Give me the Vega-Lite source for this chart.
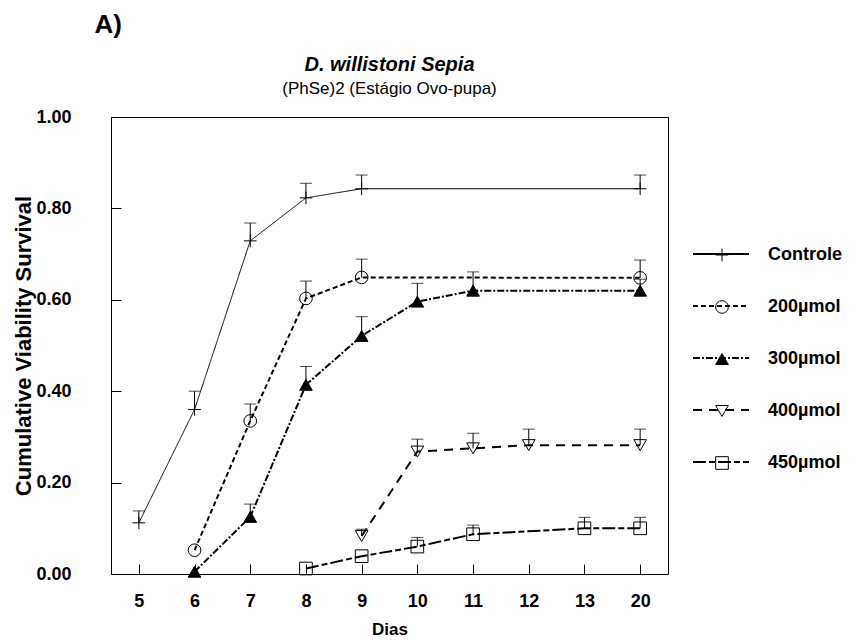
{
  "$schema": "https://vega.github.io/schema/vega-lite/v6.json",
  "background": "white",
  "padding": {"left": 12, "top": 11, "right": 5, "bottom": 5},
  "title": {"text": "A)", "anchor": "start", "fontSize": 26, "font": "Liberation Sans", "fontWeight": "bold", "color": "black", "dx": 82, "offset": 17},
  "vconcat": [
    {
      "width": 557,
      "height": 457,
      "title": {
        "text": "D. willistoni Sepia",
        "subtitle": "(PhSe)2  (Estágio Ovo-pupa)",
        "anchor": "middle",
        "font": "Liberation Sans",
        "fontSize": 20,
        "fontStyle": "italic",
        "fontWeight": "bold",
        "color": "black",
        "subtitleFont": "Liberation Sans",
        "subtitleFontSize": 17,
        "subtitleColor": "black",
        "subtitlePadding": 6,
        "offset": 11
      },
      "data": {
        "values": [
          {"dia": "5", "serie": "Controle", "grupo": "Controle", "ord": 1, "v": 0.112, "sup": 0.138},
          {"dia": "6", "serie": "Controle", "grupo": "Controle", "ord": 1, "v": 0.36, "sup": 0.4},
          {"dia": "7", "serie": "Controle", "grupo": "Controle", "ord": 1, "v": 0.729, "sup": 0.768},
          {"dia": "8", "serie": "Controle", "grupo": "Controle", "ord": 1, "v": 0.823, "sup": 0.855},
          {"dia": "9", "serie": "Controle", "grupo": "Controle", "ord": 1, "v": 0.843, "sup": 0.873},
          {"dia": "20", "serie": "Controle", "grupo": "Controle", "ord": 1, "v": 0.843, "sup": 0.873},
          {"dia": "6", "serie": "200µmol", "grupo": "200µmol", "ord": 2, "v": 0.052, "sup": null},
          {"dia": "7", "serie": "200µmol", "grupo": "200µmol", "ord": 2, "v": 0.335, "sup": 0.372},
          {"dia": "8", "serie": "200µmol", "grupo": "200µmol", "ord": 2, "v": 0.603, "sup": 0.641},
          {"dia": "9", "serie": "200µmol", "grupo": "200µmol", "ord": 2, "v": 0.649, "sup": 0.689},
          {"dia": "20", "serie": "200µmol", "grupo": "200µmol", "ord": 2, "v": 0.648, "sup": 0.687},
          {"dia": "6", "serie": "300µmol", "grupo": "300µmol", "ord": 3, "v": 0.005, "sup": null},
          {"dia": "7", "serie": "300µmol", "grupo": "300µmol", "ord": 3, "v": 0.125, "sup": 0.153},
          {"dia": "8", "serie": "300µmol", "grupo": "300µmol", "ord": 3, "v": 0.414, "sup": 0.454},
          {"dia": "9", "serie": "300µmol", "grupo": "300µmol", "ord": 3, "v": 0.521, "sup": 0.563},
          {"dia": "10", "serie": "300µmol", "grupo": "300µmol", "ord": 3, "v": 0.596, "sup": 0.636},
          {"dia": "11", "serie": "300µmol", "grupo": "300µmol", "ord": 3, "v": 0.62, "sup": 0.661},
          {"dia": "20", "serie": "300µmol", "grupo": "300µmol", "ord": 3, "v": 0.62, "sup": 0.645},
          {"dia": "9", "serie": "400µmol", "grupo": "400µmol", "ord": 4, "v": 0.083, "sup": 0.098},
          {"dia": "10", "serie": "400µmol", "grupo": "400µmol", "ord": 4, "v": 0.268, "sup": 0.295},
          {"dia": "11", "serie": "400µmol", "grupo": "400µmol", "ord": 4, "v": 0.275, "sup": 0.308},
          {"dia": "12", "serie": "400µmol", "grupo": "400µmol", "ord": 4, "v": 0.282, "sup": 0.317},
          {"dia": "20", "serie": "400µmol", "grupo": "400µmol", "ord": 4, "v": 0.282, "sup": 0.317},
          {"dia": "8", "serie": "450µmol", "grupo": "450µmol", "ord": 5, "v": 0.012, "sup": null},
          {"dia": "9", "serie": "450µmol", "grupo": "450µmol", "ord": 5, "v": 0.039, "sup": null},
          {"dia": "10", "serie": "450µmol", "grupo": "450µmol", "ord": 5, "v": 0.06, "sup": 0.08},
          {"dia": "11", "serie": "450µmol", "grupo": "450µmol", "ord": 5, "v": 0.087, "sup": 0.107},
          {"dia": "13", "serie": "450µmol", "grupo": "450µmol", "ord": 5, "v": 0.1, "sup": 0.124},
          {"dia": "20", "serie": "450µmol", "grupo": "450µmol", "ord": 5, "v": 0.1, "sup": 0.124}
        ]
      },
      "encoding": {
        "x": {
          "field": "dia",
          "type": "ordinal",
          "scale": {"type": "point", "domain": ["5", "6", "7", "8", "9", "10", "11", "12", "13", "20"], "padding": 0.5},
          "axis": {"title": "Dias", "labelAngle": 0, "tickSize": -10, "labelPadding": 28, "titlePadding": 11, "titleFontSize": 17}
        }
      },
      "layer": [
        {
          "transform": [{"filter": "datum.sup != null"}],
          "mark": {"type": "rule", "color": "black", "strokeWidth": 1},
          "encoding": {
            "y": {"field": "v", "type": "quantitative"},
            "y2": {"field": "sup"}
          }
        },
        {
          "transform": [{"filter": "datum.sup != null"}],
          "mark": {"type": "tick", "color": "black", "thickness": 1, "size": 12},
          "encoding": {
            "y": {"field": "sup", "type": "quantitative"}
          }
        },
        {
          "mark": {"type": "line", "color": "black"},
          "encoding": {
            "y": {
              "field": "v",
              "type": "quantitative",
              "scale": {"domain": [0, 1], "nice": false, "zero": true},
              "axis": {
                "title": "Cumulative Viability Survival",
                "values": [0, 0.2, 0.4, 0.6, 0.8, 1],
                "format": ".2f",
                "tickSize": -10,
                "labelPadding": 50,
                "titlePadding": 0,
                "titleFontSize": 22
              }
            },
            "strokeDash": {
              "field": "grupo",
              "type": "nominal",
              "sort": {"field": "ord", "op": "min"},
              "scale": {"range": [[1, 0], [5, 3], [7, 2, 2, 2], [9, 7], [13, 3, 6, 3]]},
              "legend": {
                "orient": "none",
                "legendX": 581,
                "legendY": 108,
                "title": null,
                "symbolType": "stroke",
                "symbolSize": 3136,
                "symbolStrokeColor": "black",
                "symbolStrokeWidth": 2,
                "labelExpr": "''",
                "rowPadding": 18
              }
            },
            "strokeWidth": {
              "field": "ord",
              "type": "quantitative",
              "scale": {"domain": [1, 2], "range": [1, 2], "clamp": true},
              "legend": null
            }
          }
        },
        {
          "mark": {"type": "point", "filled": false, "stroke": "black", "strokeWidth": 1, "size": 160, "opacity": 1},
          "encoding": {
            "y": {"field": "v", "type": "quantitative"},
            "shape": {
              "field": "serie",
              "type": "nominal",
              "scale": {
                "domain": ["Controle", "200µmol", "300µmol", "400µmol", "450µmol"],
                "range": ["M-1,0H1M0,-1V1", "circle", "triangle-up", "triangle-down", "square"]
              },
              "legend": {
                "orient": "none",
                "legendX": 602,
                "legendY": 129,
                "title": null,
                "symbolSize": 160,
                "symbolFillColor": "transparent",
                "symbolStrokeColor": "black",
                "symbolStrokeWidth": 1,
                "labelFont": "Liberation Sans",
                "labelFontSize": 18,
                "labelFontWeight": "bold",
                "labelColor": "black",
                "labelOffset": 37,
                "rowPadding": 34
              }
            },
            "fill": {
              "field": "serie",
              "type": "nominal",
              "scale": {
                "domain": ["Controle", "200µmol", "300µmol", "400µmol", "450µmol"],
                "range": ["transparent", "transparent", "black", "transparent", "transparent"]
              },
              "legend": {
                "orient": "none",
                "legendX": 602,
                "legendY": 129,
                "title": null,
                "symbolSize": 160,
                "symbolFillColor": "transparent",
                "symbolStrokeColor": "black",
                "symbolStrokeWidth": 1,
                "labelFont": "Liberation Sans",
                "labelFontSize": 18,
                "labelFontWeight": "bold",
                "labelColor": "black",
                "labelOffset": 37,
                "rowPadding": 34
              }
            }
          }
        }
      ]
    }
  ],
  "config": {
    "view": {"stroke": "black", "strokeWidth": 1},
    "axis": {
      "grid": false,
      "domainColor": "black",
      "tickColor": "black",
      "labelColor": "black",
      "titleColor": "black",
      "labelFont": "Liberation Sans",
      "labelFontSize": 18,
      "labelFontWeight": "bold",
      "titleFont": "Liberation Sans",
      "titleFontSize": 16,
      "titleFontWeight": "bold"
    }
  }
}
